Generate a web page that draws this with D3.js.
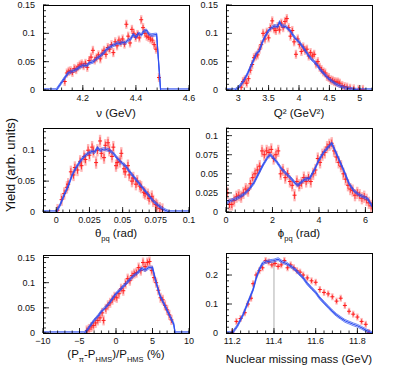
<!DOCTYPE html>
<html>
<head>
<meta charset="utf-8">
<script src="https://cdn.jsdelivr.net/npm/d3@7"></script>
<style>
  body { margin: 0; background: #fff; }
  text { font-family: "Liberation Sans", Arial, sans-serif; fill: #111; }
</style>
</head>
<body>
<div id="chart"></div>
<script>
'use strict'

// ---- data ----
// nu (GeV)
const nuData = [
  [4.132, 0.015], [4.140, 0.030], [4.147, 0.033], [4.154, 0.034], [4.161, 0.031],
  [4.168, 0.038], [4.175, 0.036], [4.182, 0.041], [4.189, 0.044], [4.196, 0.046],
  [4.203, 0.043], [4.210, 0.047], [4.217, 0.040], [4.224, 0.052], [4.231, 0.058],
  [4.238, 0.070], [4.245, 0.053], [4.252, 0.057], [4.259, 0.062], [4.266, 0.055],
  [4.273, 0.065], [4.280, 0.070], [4.287, 0.063], [4.294, 0.075], [4.301, 0.072],
  [4.308, 0.080], [4.315, 0.066], [4.322, 0.085], [4.329, 0.078], [4.336, 0.088],
  [4.343, 0.084], [4.350, 0.090], [4.357, 0.081], [4.364, 0.116], [4.371, 0.095],
  [4.378, 0.083], [4.385, 0.107], [4.392, 0.100], [4.399, 0.093], [4.406, 0.098],
  [4.413, 0.092], [4.420, 0.124], [4.427, 0.110], [4.434, 0.100], [4.441, 0.095],
  [4.448, 0.093], [4.455, 0.090], [4.462, 0.088], [4.469, 0.080], [4.476, 0.072],
  [4.487, 0.022]
]
const nuSim = [
  [4.05, 0], [4.10, 0], [4.137, 0.025], [4.145, 0.030], [4.16, 0.033], [4.175, 0.036],
  [4.19, 0.041], [4.205, 0.044], [4.215, 0.043], [4.225, 0.048], [4.24, 0.050],
  [4.25, 0.055], [4.265, 0.060], [4.28, 0.066], [4.29, 0.072], [4.30, 0.075],
  [4.31, 0.078], [4.32, 0.080], [4.33, 0.083], [4.34, 0.082], [4.35, 0.084],
  [4.36, 0.083], [4.37, 0.088], [4.38, 0.090], [4.39, 0.098], [4.40, 0.093],
  [4.41, 0.100], [4.42, 0.097], [4.43, 0.104], [4.44, 0.105], [4.45, 0.098],
  [4.46, 0.097], [4.478, 0.098], [4.493, 0], [4.6, 0]
]
const nuTicks = [4.2, 4.4, 4.6]

// Q2 (GeV2)
const q2Data = [
  [3.05, 0.005], [3.08, 0.015], [3.11, 0.018], [3.14, 0.012], [3.17, 0.020],
  [3.20, 0.035], [3.23, 0.045], [3.26, 0.057], [3.29, 0.060], [3.32, 0.062],
  [3.35, 0.072], [3.38, 0.080], [3.41, 0.100], [3.44, 0.090], [3.47, 0.102],
  [3.50, 0.092], [3.53, 0.110], [3.56, 0.122], [3.59, 0.108], [3.62, 0.105],
  [3.65, 0.112], [3.68, 0.106], [3.71, 0.118], [3.74, 0.110], [3.77, 0.121],
  [3.80, 0.126], [3.83, 0.110], [3.86, 0.095], [3.89, 0.105], [3.92, 0.085],
  [3.95, 0.063], [3.98, 0.090], [4.01, 0.080], [4.04, 0.068], [4.07, 0.076],
  [4.10, 0.070], [4.13, 0.072], [4.16, 0.060], [4.19, 0.066], [4.22, 0.060],
  [4.25, 0.063], [4.28, 0.046], [4.31, 0.050], [4.34, 0.040], [4.37, 0.036],
  [4.40, 0.032], [4.43, 0.030], [4.46, 0.024], [4.49, 0.022], [4.52, 0.018],
  [4.55, 0.017], [4.58, 0.015], [4.61, 0.014], [4.64, 0.014], [4.67, 0.012],
  [4.71, 0.008], [4.75, 0.006], [4.79, 0.005], [4.84, 0.003], [4.90, 0.002],
  [4.98, 0.001], [5.05, 0.001]
]
const q2Sim = [
  [2.8, 0], [2.95, 0], [3.0, 0.004], [3.05, 0.010], [3.1, 0.018], [3.15, 0.028],
  [3.2, 0.040], [3.25, 0.052], [3.3, 0.064], [3.35, 0.070], [3.4, 0.085],
  [3.45, 0.096], [3.5, 0.105], [3.55, 0.110], [3.6, 0.113], [3.65, 0.112],
  [3.68, 0.120], [3.72, 0.113], [3.78, 0.112], [3.85, 0.105], [3.9, 0.097],
  [3.95, 0.090], [4.0, 0.085], [4.05, 0.078], [4.1, 0.070], [4.15, 0.062],
  [4.2, 0.055], [4.25, 0.050], [4.3, 0.044], [4.35, 0.036], [4.4, 0.030],
  [4.45, 0.024], [4.5, 0.019], [4.55, 0.015], [4.6, 0.011], [4.65, 0.008],
  [4.7, 0.006], [4.75, 0.004], [4.8, 0.003], [4.9, 0.001], [5.0, 0], [5.2, 0]
]
const q2Ticks = [3, 3.5, 4, 4.5, 5]

// theta_pq (rad)
const thData = [
  [0.001, 0.003], [0.004, 0.020], [0.006, 0.030], [0.008, 0.040], [0.009, 0.045],
  [0.011, 0.065], [0.013, 0.060], [0.014, 0.072], [0.016, 0.068], [0.018, 0.082],
  [0.019, 0.075], [0.021, 0.090], [0.022, 0.085], [0.024, 0.100], [0.025, 0.092],
  [0.027, 0.105], [0.028, 0.098], [0.030, 0.080], [0.031, 0.100], [0.033, 0.115],
  [0.034, 0.095], [0.036, 0.088], [0.037, 0.108], [0.039, 0.112], [0.040, 0.100],
  [0.042, 0.090], [0.043, 0.105], [0.045, 0.075], [0.046, 0.080], [0.048, 0.082],
  [0.049, 0.095], [0.051, 0.070], [0.052, 0.065], [0.054, 0.075], [0.055, 0.060],
  [0.057, 0.050], [0.058, 0.055], [0.060, 0.045], [0.061, 0.050], [0.063, 0.042],
  [0.064, 0.040], [0.066, 0.032], [0.067, 0.030], [0.069, 0.028], [0.070, 0.022],
  [0.072, 0.025], [0.073, 0.018], [0.075, 0.012], [0.076, 0.010], [0.078, 0.006],
  [0.080, 0.004]
]
const thSim = [
  [-0.01, 0], [0, 0], [0.003, 0.012], [0.006, 0.028], [0.009, 0.042], [0.012, 0.060],
  [0.015, 0.072], [0.018, 0.082], [0.021, 0.090], [0.024, 0.095], [0.027, 0.098],
  [0.029, 0.097], [0.031, 0.104], [0.033, 0.100], [0.036, 0.102], [0.040, 0.100],
  [0.043, 0.095], [0.046, 0.087], [0.049, 0.080], [0.052, 0.075], [0.055, 0.066],
  [0.058, 0.058], [0.061, 0.050], [0.064, 0.042], [0.067, 0.034], [0.070, 0.026],
  [0.073, 0.018], [0.076, 0.012], [0.079, 0.007], [0.082, 0.003], [0.085, 0], [0.1, 0]
]
const thTicks = [0, 0.025, 0.05, 0.075, 0.1]

// phi_pq (rad)
const phData = [
  [0.05, 0.025], [0.15, 0.010], [0.25, 0.010], [0.35, 0.015], [0.45, 0.020],
  [0.55, 0.022], [0.65, 0.020], [0.75, 0.025], [0.85, 0.030], [0.95, 0.028],
  [1.05, 0.037], [1.15, 0.045], [1.25, 0.050], [1.35, 0.055], [1.45, 0.060],
  [1.55, 0.080], [1.65, 0.075], [1.75, 0.080], [1.85, 0.078], [1.95, 0.082],
  [2.05, 0.070], [2.15, 0.075], [2.25, 0.080], [2.35, 0.050], [2.45, 0.055],
  [2.55, 0.045], [2.65, 0.050], [2.75, 0.040], [2.85, 0.035], [2.95, 0.022],
  [3.05, 0.040], [3.15, 0.035], [3.25, 0.038], [3.35, 0.045], [3.45, 0.040],
  [3.55, 0.045], [3.65, 0.040], [3.75, 0.050], [3.85, 0.055], [3.95, 0.070],
  [4.05, 0.065], [4.15, 0.075], [4.25, 0.078], [4.35, 0.085], [4.45, 0.088],
  [4.55, 0.090], [4.65, 0.080], [4.75, 0.072], [4.85, 0.065], [4.95, 0.060],
  [5.05, 0.050], [5.15, 0.043], [5.25, 0.035], [5.35, 0.030], [5.45, 0.028],
  [5.55, 0.022], [5.65, 0.025], [5.75, 0.022], [5.85, 0.018], [5.95, 0.020],
  [6.05, 0.016], [6.15, 0.012], [6.25, 0.008]
]
const phSim = [
  [0, 0.012], [0.2, 0.015], [0.4, 0.017], [0.6, 0.020], [0.8, 0.024], [1.0, 0.030],
  [1.2, 0.038], [1.4, 0.050], [1.6, 0.062], [1.8, 0.072], [1.9, 0.075], [2.0, 0.072],
  [2.2, 0.065], [2.4, 0.056], [2.6, 0.050], [2.8, 0.044], [3.0, 0.037], [3.1, 0.035],
  [3.2, 0.038], [3.4, 0.043], [3.6, 0.044], [3.8, 0.055], [4.0, 0.068], [4.2, 0.078],
  [4.4, 0.085], [4.55, 0.090], [4.7, 0.080], [4.9, 0.066], [5.1, 0.052], [5.3, 0.037],
  [5.5, 0.028], [5.7, 0.023], [5.9, 0.020], [6.1, 0.017], [6.283, 0.008]
]
const phTicks = [0, 2, 4, 6]

// (P_pi - P_HMS)/P_HMS (%)
const dpData = [
  [-4.0, 0.005], [-3.7, 0.008], [-3.4, 0.012], [-3.1, 0.015], [-2.8, 0.020],
  [-2.5, 0.025], [-2.2, 0.030], [-1.9, 0.040], [-1.7, 0.025], [-1.4, 0.048],
  [-1.1, 0.055], [-0.8, 0.060], [-0.5, 0.066], [-0.2, 0.072], [0.1, 0.070],
  [0.4, 0.078], [0.7, 0.088], [1.0, 0.084], [1.3, 0.098], [1.6, 0.108],
  [1.9, 0.104], [2.2, 0.114], [2.5, 0.118], [2.8, 0.120], [3.1, 0.130],
  [3.4, 0.124], [3.7, 0.140], [4.0, 0.132], [4.3, 0.140], [4.6, 0.142],
  [4.9, 0.124], [5.2, 0.110], [5.5, 0.100], [5.8, 0.085], [6.1, 0.070],
  [6.4, 0.066], [6.7, 0.055], [7.0, 0.046], [7.3, 0.036], [7.6, 0.026]
]
const dpSim = [
  [-10, 0], [-4.3, 0], [-4, 0.005], [-3.5, 0.015], [-3, 0.025], [-2.5, 0.033],
  [-2, 0.043], [-1.5, 0.050], [-1, 0.058], [-0.5, 0.068], [0, 0.078], [0.5, 0.085],
  [1, 0.093], [1.5, 0.100], [2, 0.108], [2.5, 0.115], [3, 0.120], [3.5, 0.128],
  [4, 0.125], [4.5, 0.130], [5, 0.130], [5.3, 0.112], [5.7, 0.090], [6, 0.075],
  [6.5, 0.060], [7, 0.045], [7.5, 0.030], [7.9, 0.018], [8.1, 0], [10, 0]
]
const dpTicks = [-10, -5, 0, 5, 10]

// nuclear missing mass (GeV)
const mmData = [
  [11.20, 0.002], [11.22, 0.040], [11.24, 0.050], [11.26, 0.070], [11.275, 0.100],
  [11.29, 0.120], [11.30, 0.170], [11.315, 0.200], [11.33, 0.215], [11.345, 0.225],
  [11.36, 0.250], [11.375, 0.245], [11.39, 0.235], [11.405, 0.240], [11.42, 0.230],
  [11.435, 0.235], [11.45, 0.250], [11.465, 0.225], [11.48, 0.235], [11.495, 0.225],
  [11.51, 0.215], [11.525, 0.210], [11.54, 0.200], [11.56, 0.190], [11.58, 0.180],
  [11.60, 0.175], [11.62, 0.150], [11.64, 0.140], [11.66, 0.135], [11.68, 0.125],
  [11.70, 0.110], [11.72, 0.120], [11.74, 0.095], [11.76, 0.075], [11.78, 0.065],
  [11.80, 0.055], [11.82, 0.040], [11.84, 0.030], [11.855, 0.002]
]
const mmSim = [
  [11.17, 0], [11.2, 0], [11.225, 0.025], [11.25, 0.060], [11.275, 0.105],
  [11.3, 0.150], [11.315, 0.190], [11.33, 0.220], [11.345, 0.240], [11.36, 0.245],
  [11.38, 0.248], [11.4, 0.250], [11.42, 0.255], [11.44, 0.245], [11.46, 0.240],
  [11.48, 0.230], [11.5, 0.220], [11.52, 0.205], [11.54, 0.190], [11.56, 0.170],
  [11.58, 0.155], [11.6, 0.140], [11.62, 0.120], [11.64, 0.105], [11.66, 0.090],
  [11.68, 0.075], [11.7, 0.062], [11.72, 0.052], [11.74, 0.042], [11.76, 0.036],
  [11.78, 0.030], [11.8, 0.025], [11.82, 0.018], [11.84, 0.010], [11.86, 0.003], [11.87, 0]
]
const mmTicks = [11.2, 11.4, 11.6, 11.8]
const mmMarker = 11.4

// y tick labels for each panel
const yTicks1 = [0, 0.05, 0.1, 0.15]
const yTicks2 = [0, 0.05, 0.1]
const yTicks3 = [0, 0.025, 0.05, 0.075, 0.1]
const yTicks4 = [0, 0.1, 0.2]

// ---- panels ----
const panels = [
  { data: nuData, sim: nuSim, err: 0.008, xTicks: nuTicks, xMinor: 0.04, yTicks: yTicks1, yMinor: 0.01,
    xDomain: [4.05, 4.6], yDomain: [0, 0.15], box: [43, 189, 5, 90], titleY: 117,
    title: [['ν (GeV)']] },
  { data: q2Data, sim: q2Sim, err: 0.008, xTicks: q2Ticks, xMinor: 0.1, yTicks: yTicks1, yMinor: 0.01,
    xDomain: [2.8, 5.2], yDomain: [0, 0.15], box: [226, 372, 5, 90], titleY: 117,
    title: [['Q² (GeV²)']] },
  { data: thData, sim: thSim, err: 0.01, xTicks: thTicks, xMinor: 0.005, yTicks: yTicks2, yMinor: 0.01,
    xDomain: [-0.01, 0.1], yDomain: [0, 0.136], box: [43, 189, 128, 212], titleY: 237,
    title: [['θ'], ['pq', true], [' (rad)']] },
  { data: phData, sim: phSim, err: 0.008, xTicks: phTicks, xMinor: 0.4, yTicks: yTicks3, yMinor: 0.005,
    xDomain: [0, 2 * Math.PI], yDomain: [0, 0.11], box: [226, 372, 128, 212], titleY: 237,
    title: [['ϕ'], ['pq', true], [' (rad)']] },
  { data: dpData, sim: dpSim, err: 0.01, xTicks: dpTicks, xMinor: 1, yTicks: yTicks1, yMinor: 0.01,
    xDomain: [-10, 10], yDomain: [0, 0.155], box: [43, 189, 255, 333], titleY: 358,
    title: [['(P'], ['π', true], ['-P'], ['HMS', true], [')/P'], ['HMS', true], [' (%)']] },
  { data: mmData, sim: mmSim, err: 0.012, xTicks: mmTicks, xMinor: 0.04, yTicks: yTicks4, yMinor: 0.02,
    xDomain: [11.17, 11.87], yDomain: [0, 0.276], box: [226, 372, 253, 333], titleY: 363,
    title: [['Nuclear missing mass (GeV)']], marker: mmMarker }
]

const W = 409
const H = 367
const blue = '#2f4ff0'
const fmt = d3.format('~g')

const svg = d3.select('#chart')
  .append('svg')
  .attr('width', W)
  .attr('height', H)

function minorTicks (domain, step) {
  const out = []
  const i0 = Math.ceil(domain[0] / step - 1e-6)
  const i1 = Math.floor(domain[1] / step + 1e-6)
  for (let i = i0; i <= i1; i++) out.push(i * step)
  return out
}

function drawPanel (p, idx) {
  const [left, right, top, bottom] = p.box
  const x = d3.scaleLinear().domain(p.xDomain).range([left, right])
  const y = d3.scaleLinear().domain(p.yDomain).range([bottom, top])
  const g = svg.append('g')

  svg.append('clipPath').attr('id', 'clip' + idx)
    .append('rect')
    .attr('x', left).attr('y', top - 1)
    .attr('width', right - left).attr('height', bottom - top + 1.5)

  const plot = g.append('g').attr('clip-path', `url(#clip${idx})`)

  // grey marker line (missing mass panel)
  if (p.marker !== undefined) {
    const peak = d3.max(p.sim, d => d[1])
    plot.append('line')
      .attr('x1', x(p.marker)).attr('x2', x(p.marker))
      .attr('y1', y(0)).attr('y2', y(peak))
      .attr('stroke', '#999')
      .attr('stroke-width', 0.8)
  }

  // red data with error bars
  const pts = plot.selectAll('g.pt')
    .data(p.data)
    .enter()
    .append('g')
    .attr('class', 'pt')
  pts.append('rect')
    .attr('x', d => x(d[0]) - 1.2)
    .attr('y', d => y(d[1] + p.err))
    .attr('width', 2.4)
    .attr('height', d => y(d[1] - p.err) - y(d[1] + p.err))
    .attr('fill', '#ff5a5a')
    .attr('opacity', 0.45)
  pts.append('line')
    .attr('x1', d => x(d[0])).attr('x2', d => x(d[0]))
    .attr('y1', d => y(d[1] + p.err * 0.6)).attr('y2', d => y(d[1] - p.err * 0.6))
    .attr('stroke', '#ff1a1a')
    .attr('stroke-width', 0.8)
  pts.append('line')
    .attr('x1', d => x(d[0]) - 2).attr('x2', d => x(d[0]) + 2)
    .attr('y1', d => y(d[1])).attr('y2', d => y(d[1]))
    .attr('stroke', '#ff1a1a')
    .attr('stroke-width', 1)

  // blue simulation: central line with a thin band around it
  const line = off => d3.line()
    .x(d => x(d[0]))
    .y(d => y(d[1]) + off)
  ;[-1.4, 1.4].forEach(off => {
    plot.append('path')
      .datum(p.sim)
      .attr('d', line(off))
      .attr('fill', 'none')
      .attr('stroke', blue)
      .attr('stroke-width', 0.7)
  })
  plot.append('path')
    .datum(p.sim)
    .attr('d', line(0))
    .attr('fill', 'none')
    .attr('stroke', blue)
    .attr('stroke-width', 1.2)

  // ticks
  const tk = g.append('g').attr('stroke', '#000').attr('stroke-width', 0.8)
  minorTicks(p.xDomain, p.xMinor).forEach(v => {
    tk.append('line').attr('x1', x(v)).attr('x2', x(v)).attr('y1', bottom).attr('y2', bottom - 2.5)
  })
  p.xTicks.forEach(v => {
    tk.append('line').attr('x1', x(v)).attr('x2', x(v)).attr('y1', bottom).attr('y2', bottom - 5)
  })
  minorTicks(p.yDomain, p.yMinor).forEach(v => {
    tk.append('line').attr('x1', left).attr('x2', left + 3).attr('y1', y(v)).attr('y2', y(v))
  })
  p.yTicks.forEach(v => {
    tk.append('line').attr('x1', left).attr('x2', left + 6).attr('y1', y(v)).attr('y2', y(v))
  })

  // frame
  g.append('rect')
    .attr('x', left + 0.5).attr('y', top + 0.5)
    .attr('width', right - left).attr('height', bottom - top)
    .attr('fill', 'none')
    .attr('stroke', '#000')
    .attr('stroke-width', 1)

  // tick labels
  g.selectAll('text.xt')
    .data(p.xTicks)
    .enter()
    .append('text')
    .attr('class', 'xt')
    .attr('x', d => x(d))
    .attr('y', bottom + 11)
    .attr('text-anchor', 'middle')
    .attr('font-size', 9)
    .text(d => fmt(d))
  g.selectAll('text.yt')
    .data(p.yTicks)
    .enter()
    .append('text')
    .attr('class', 'yt')
    .attr('x', left - 8)
    .attr('y', d => y(d) + 3)
    .attr('text-anchor', 'end')
    .attr('font-size', 9)
    .text(d => fmt(d))

  // axis title, subscripts shifted with relative dy so the whole string stays one chunk
  const t = g.append('text')
    .attr('x', (left + right) / 2)
    .attr('y', p.titleY)
    .attr('text-anchor', 'middle')
    .attr('font-size', 12)
  let shifted = false
  p.title.forEach(([s, sub]) => {
    const isSub = !!sub
    const dy = isSub === shifted ? 0 : (isSub ? 3.5 : -3.5)
    shifted = isSub
    t.append('tspan')
      .attr('font-size', isSub ? 7.5 : 11.5)
      .attr('dy', dy)
      .text(s)
  })
}

panels.forEach(drawPanel)

svg.append('text')
  .attr('transform', 'translate(15,165) rotate(-90)')
  .attr('text-anchor', 'middle')
  .attr('font-size', 13)
  .text('Yield (arb. units)')
</script>
</body>
</html>
